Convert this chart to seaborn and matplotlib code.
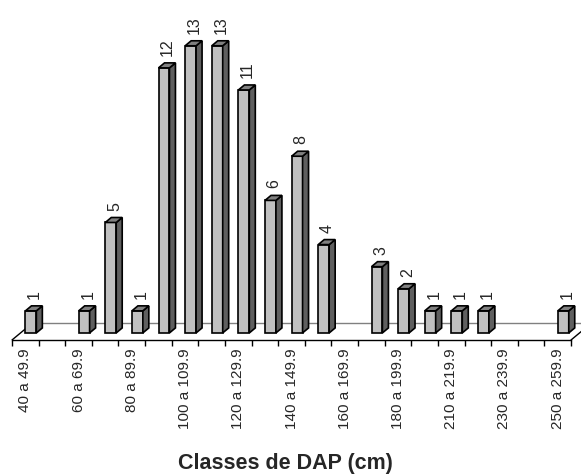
import matplotlib
matplotlib.use("Agg")
import matplotlib.pyplot as plt
from matplotlib.patches import Polygon
import seaborn as sns

# DAP classes (one slot each) and tree counts
classes = [
    "40 a 49.9", "50 a 59.9", "60 a 69.9", "70 a 79.9", "80 a 89.9",
    "90 a 99.9", "100 a 109.9", "110 a 119.9", "120 a 129.9", "130 a 139.9",
    "140 a 149.9", "150 a 159.9", "160 a 169.9", "170 a 179.9", "180 a 199.9",
    "200 a 209.9", "210 a 219.9", "220 a 229.9", "230 a 239.9", "240 a 249.9",
    "250 a 259.9",
]
counts = [1, 0, 1, 5, 1, 12, 13, 13, 11, 6, 8, 4, 0, 3, 2, 1, 1, 1, 0, 0, 1]
shown_labels = classes[::2]

FRONT = "#c0c0c0"
SIDE = "#5f5f5f"
TOP = "#808080"

sns.set_style("white")
plt.rcParams["font.family"] = ["Liberation Sans", "DejaVu Sans"]

fig = plt.figure(figsize=(5.81, 4.75), dpi=100)
ax = fig.add_axes([0.0, 135 / 475, 1.0, 330 / 475])

sns.barplot(x=classes, y=counts, color=FRONT, saturation=1, width=0.41,
            edgecolor="black", linewidth=1.2, ax=ax, zorder=3)

ax.set_xlim(-0.951, 20.875)
ax.set_ylim(-0.32, 14.62)

# pseudo-3D depth (data units)
dx, dy = 0.225, 0.226
floor_dx, floor_back = 0.77, 0.45

for p, v in zip(ax.patches, counts):
    p.set_x(p.get_x() + 0.21)
    if v == 0:
        p.set_visible(False)
        continue
    x0, x1 = p.get_x(), p.get_x() + p.get_width()
    y1 = p.get_height()
    side = Polygon([(x1, 0), (x1 + dx, dy), (x1 + dx, y1 + dy), (x1, y1)],
                   closed=True, fc=SIDE, ec="black", lw=1.2, zorder=3)
    top = Polygon([(x0, y1), (x1, y1), (x1 + dx, y1 + dy), (x0 + dx, y1 + dy)],
                  closed=True, fc=TOP, ec="black", lw=1.2, zorder=3)
    ax.add_patch(side)
    ax.add_patch(top)
    ax.annotate(str(v), xy=((x0 + x1 + dx) / 2, y1 + dy), xytext=(0.5, 5),
                textcoords="offset points", rotation=90, ha="center",
                va="bottom", fontsize=11.5)

# floor outline
y_front = ax.get_ylim()[0]
ax.plot([-0.5, -0.5 + floor_dx], [y_front, floor_back], color="black", lw=1, zorder=1)
ax.plot([20.5, 20.5 + floor_dx], [y_front, floor_back], color="black", lw=1, zorder=1)
ax.plot([-0.5 + floor_dx, 20.5 + floor_dx], [floor_back, floor_back],
        color="#808080", lw=1, zorder=1)

for s in ["left", "right", "top"]:
    ax.spines[s].set_visible(False)
ax.spines["bottom"].set_bounds(-0.5, 20.5)
ax.spines["bottom"].set_color("black")
ax.spines["bottom"].set_linewidth(1)

ax.set_yticks([])
ax.set_xticks(range(0, 21, 2))
ax.set_xticklabels(shown_labels, rotation=90, fontsize=11)
ax.set_xticks([i - 0.5 for i in range(22)], minor=True)
ax.tick_params(axis="x", which="major", length=0, pad=6)
ax.tick_params(axis="x", which="minor", length=4, width=1, color="black",
               direction="out", bottom=True)

fig.text(0.492, 1 - 463 / 475, "Classes de DAP (cm)", ha="center", va="center",
         fontsize=15.5, fontweight="bold")

fig.savefig("out.png", dpi=100)
